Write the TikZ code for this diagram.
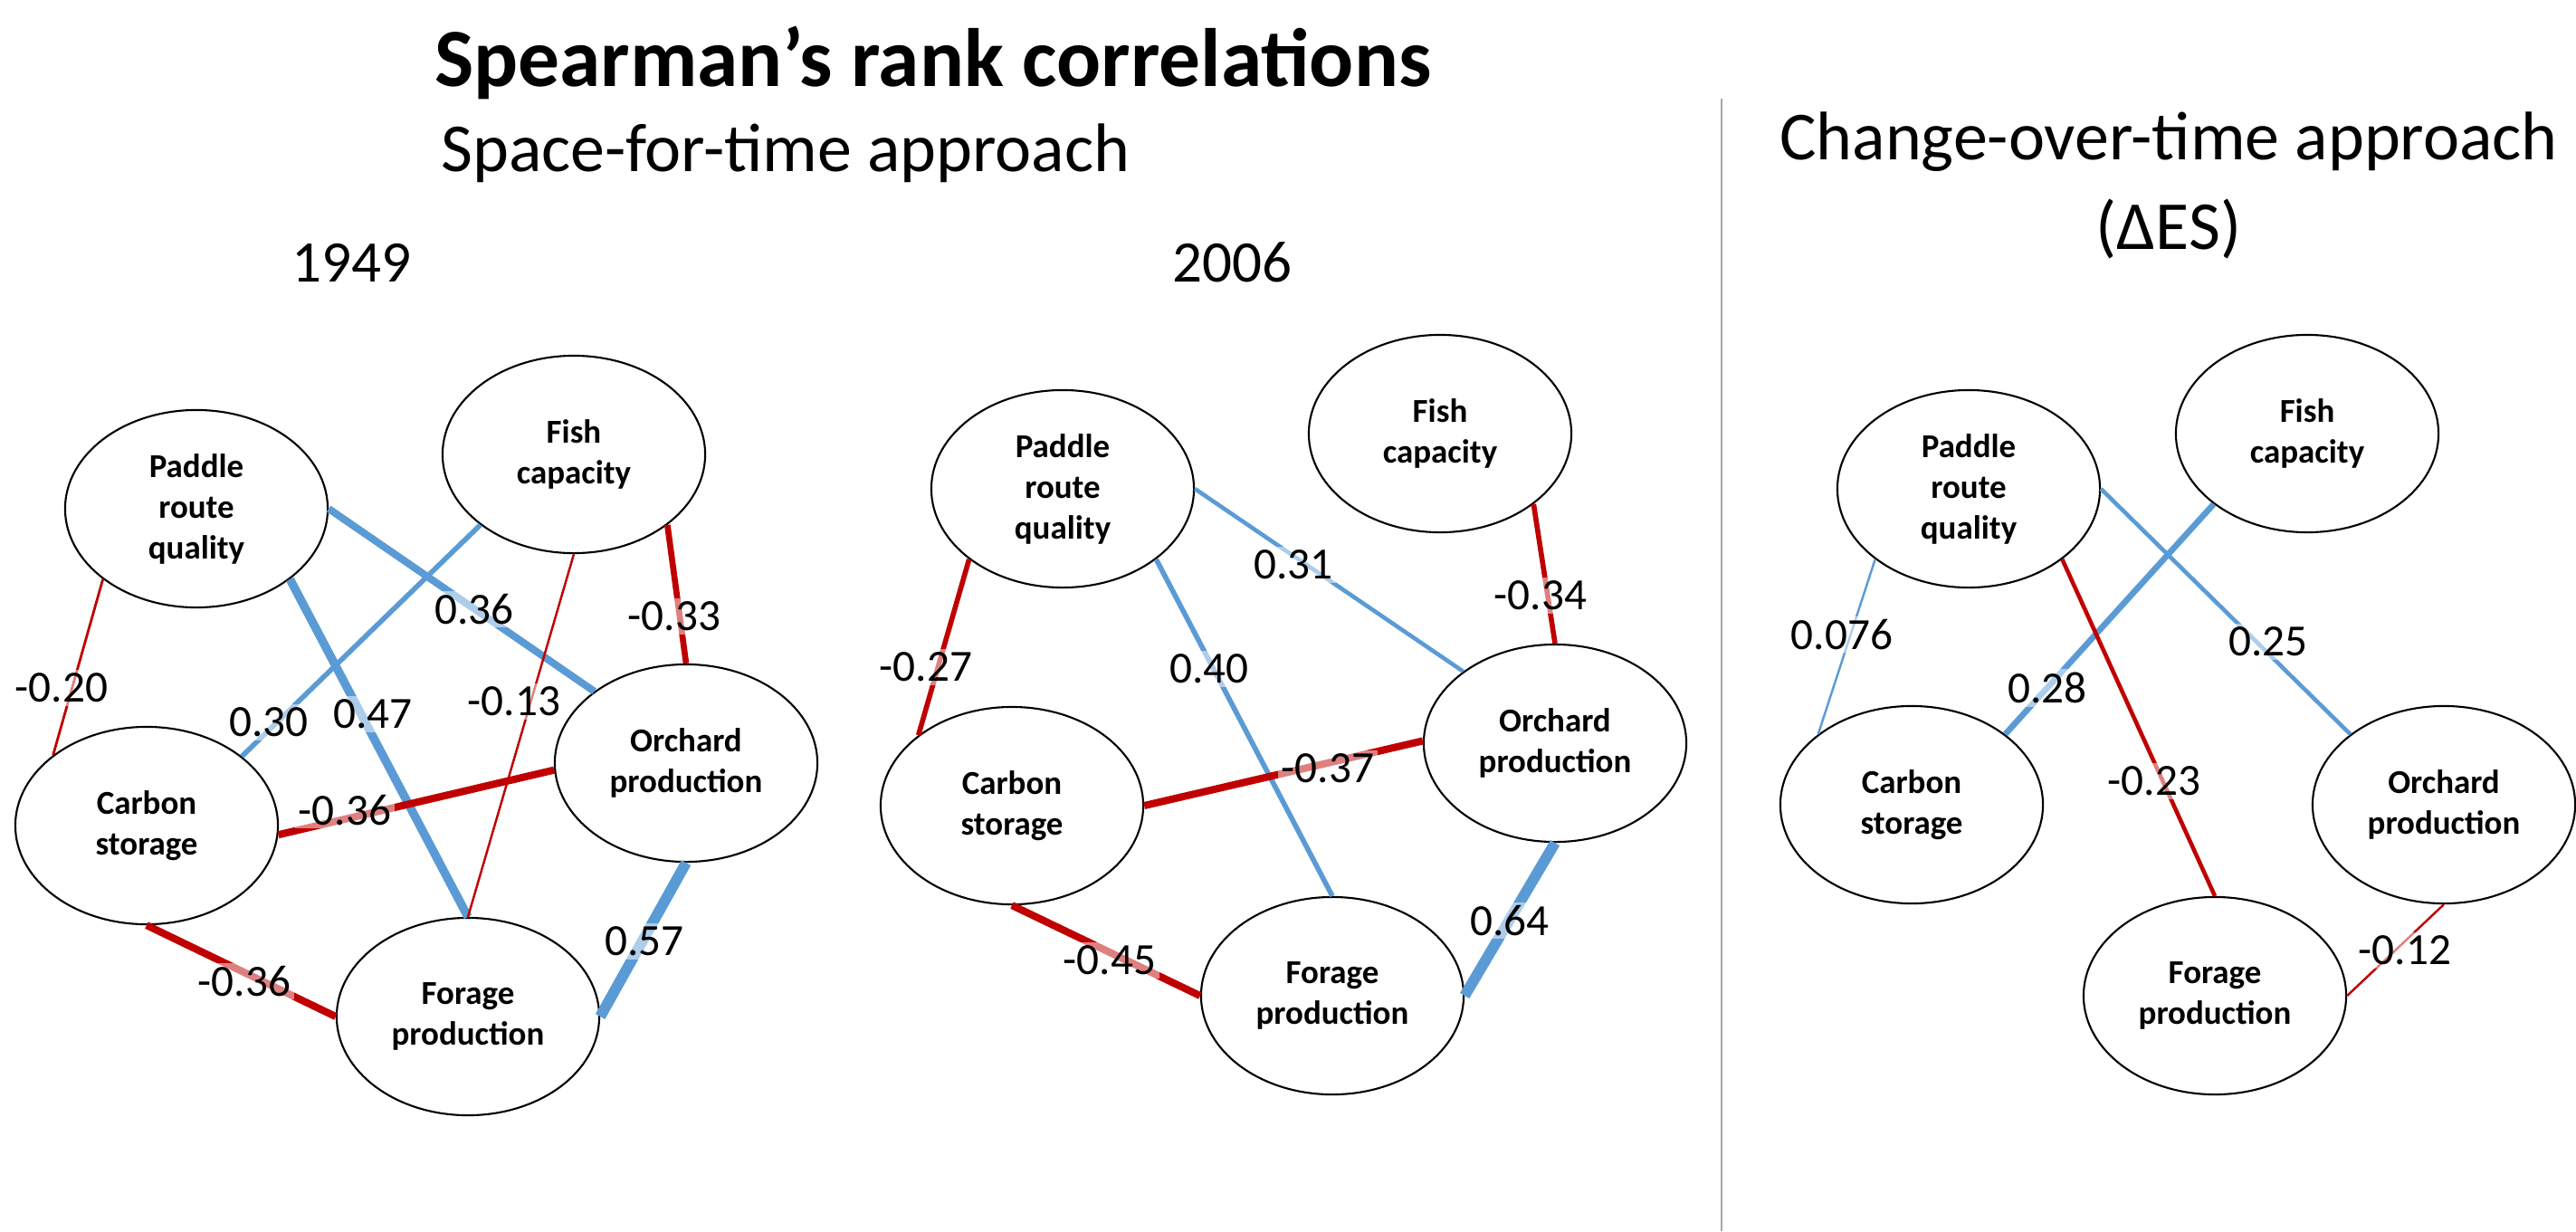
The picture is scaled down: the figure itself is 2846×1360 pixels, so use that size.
\documentclass[tikz,border=0pt]{standalone}
\usepackage{fontspec}
\setmainfont{Carlito}
\usetikzlibrary{shapes.geometric}

\begin{document}
\begin{tikzpicture}
			[x=0.01cm,y=-0.01cm,line cap=butt,
			%Styles
			es/.style={ellipse,draw,semithick,fill=white,minimum width=2.9cm,minimum height=2.18cm,inner sep=0pt,align=center,font=\bfseries\fontsize{10.5}{12.8}\selectfont},
			pos line/.style={draw=posblue,line width=#1},
			neg line/.style={draw=negred,line width=#1},
			val/.style={fill=white,fill opacity=0.5,text opacity=1,inner sep=1pt,font=\fontsize{14}{16}\selectfont},
			heading/.style={font=\fontsize{21.6}{26}\selectfont}
			]
			
			%Colors
			\definecolor{posblue}{RGB}{91,155,213}
			\definecolor{negred}{RGB}{192,0,0}
			
			\useasboundingbox (0,0) rectangle (2846,1360);
			
			%Headings
			\node[font=\bfseries\fontsize{26}{31}\selectfont] (title) at (1031,69) {Spearman’s rank correlations};
			\node[heading] (sft) at (868,169) {Space-for-time approach};
			\node[heading,align=center] (cot) at (2396,205) {Change-over-time approach\\[2pt](ΔES)};
			\node[font=\fontsize{18.5}{22}\selectfont] (y49) at (388,290) {1949};
			\node[font=\fontsize{18.5}{22}\selectfont] (y06) at (1361,290) {2006};
			\draw[gray!70,thick] (1902,109) coordinate (top) -- (1902,1360) coordinate (bottom);
			
			%1949
			\node[es] (p1) at (217,562) {Paddle\\route\\quality};
			\node[es] (f1) at (634,502) {Fish\\capacity};
			\node[es] (o1) at (758,843) {Orchard\\production};
			\node[es] (c1) at (162,912) {Carbon\\storage};
			\node[es] (g1) at (517,1123) {Forage\\production};
			\draw[neg line=0.8pt] (p1.217) -- (c1.143);
			\draw[pos line=2.3pt] (p1.0) -- (o1.142);
			\draw[pos line=1.6pt] (f1.217) -- (c1.36);
			\draw[pos line=2.7pt] (p1.-37) -- (g1.90);
			\draw[neg line=0.7pt] (f1.270) -- (g1.90);
			\draw[neg line=1.9pt] (f1.-37) -- (o1.90);
			\draw[neg line=2.3pt] (c1.-4) -- (o1.183);
			\draw[neg line=2.3pt] (c1.270) -- (g1.180);
			\draw[pos line=3.4pt] (o1.270) -- (g1.0);
			\node[val] (l1a) at (68,760) {-0.20};
			\node[val] (l1b) at (524,673) {0.36};
			\node[val] (l1c) at (745,681) {-0.33};
			\node[val] (l1d) at (297,798) {0.30};
			\node[val] (l1e) at (412,789) {0.47};
			\node[val] (l1f) at (568,775) {-0.13};
			\node[val] (l1g) at (381,895) {-0.36};
			\node[val] (l1h) at (270,1084) {-0.36};
			\node[val] (l1i) at (712,1040) {0.57};
			
			%2006
			\node[es] (p2) at (1174,540) {Paddle\\route\\quality};
			\node[es] (f2) at (1591,479) {Fish\\capacity};
			\node[es] (o2) at (1718,821) {Orchard\\production};
			\node[es] (c2) at (1118,890) {Carbon\\storage};
			\node[es] (g2) at (1472,1100) {Forage\\production};
			\draw[neg line=1.6pt] (p2.217) -- (c2.143);
			\draw[pos line=1.3pt] (p2.0) -- (o2.142);
			\draw[pos line=1.6pt] (p2.-37) -- (g2.90);
			\draw[neg line=1.6pt] (f2.-37) -- (o2.90);
			\draw[neg line=2.3pt] (c2.0) -- (o2.179);
			\draw[neg line=2.3pt] (c2.270) -- (g2.180);
			\draw[pos line=3.4pt] (o2.270) -- (g2.0);
			\node[val] (l2a) at (1023,737) {-0.27};
			\node[val] (l2b) at (1429,624) {0.31};
			\node[val] (l2c) at (1702,658) {-0.34};
			\node[val] (l2d) at (1336,739) {0.40};
			\node[val] (l2e) at (1467,849) {-0.37};
			\node[val] (l2f) at (1226,1061) {-0.45};
			\node[val] (l2g) at (1668,1017) {0.64};
			
			%Change over time
			\node[es] (p3) at (2175,540) {Paddle\\route\\quality};
			\node[es] (f3) at (2549,479) {Fish\\capacity};
			\node[es] (o3) at (2700,889) {Orchard\\production};
			\node[es] (c3) at (2112,889) {Carbon\\storage};
			\node[es] (g3) at (2447,1100) {Forage\\production};
			\draw[pos line=0.7pt] (p3.217) -- (c3.143);
			\draw[pos line=1.3pt] (p3.0) -- (o3.143);
			\draw[pos line=1.9pt] (f3.217) -- (c3.37);
			\draw[neg line=1.3pt] (p3.-37) -- (g3.90);
			\draw[neg line=0.7pt] (o3.270) -- (g3.0);
			\node[val] (l3a) at (2035,701) {0.076};
			\node[val] (l3b) at (2262,760) {0.28};
			\node[val] (l3c) at (2506,709) {0.25};
			\node[val] (l3d) at (2380,863) {-0.23};
			\node[val] (l3e) at (2657,1050) {-0.12};
		\end{tikzpicture}
\end{document}
